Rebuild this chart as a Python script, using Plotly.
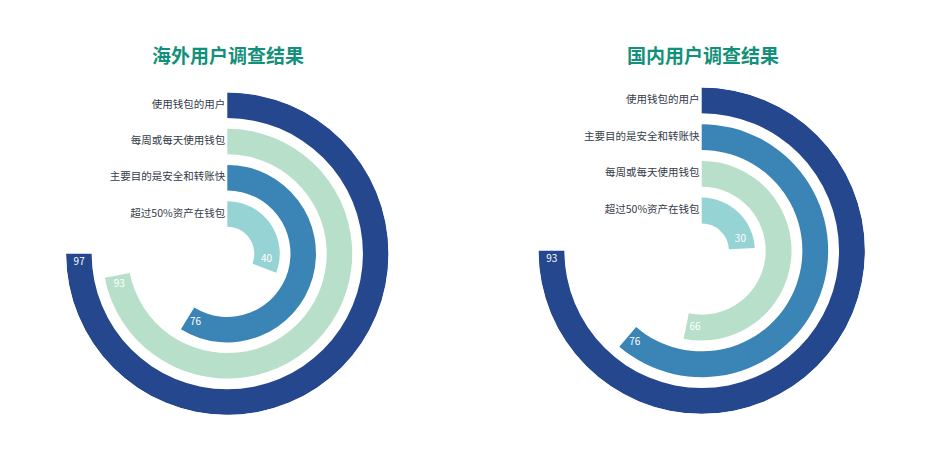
import math
import plotly.graph_objects as go

# ---- data ----
titles = ["海外用户调查结果", "国内用户调查结果"]
left_categories = ["使用钱包的用户", "每周或每天使用钱包", "主要目的是安全和转账快", "超过50%资产在钱包"]
left_values = [97, 93, 76, 40]
right_categories = ["使用钱包的用户", "主要目的是安全和转账快", "每周或每天使用钱包", "超过50%资产在钱包"]
right_values = [93, 76, 66, 30]

# ---- styles ----
color_map = {
    "使用钱包的用户": "#25478E",
    "每周或每天使用钱包": "#B7DFCA",
    "主要目的是安全和转账快": "#3A84B6",
    "超过50%资产在钱包": "#96D3D4",
}
TITLE_COLOR = "#13907A"
TEXT_COLOR = "#333C48"
FONT = "Noto Sans CJK SC"

W, H = 936, 456
# polar subplot geometry (pixel centers / radii)
charts = [
    dict(cx=227.3, cy=253.7, R=161.4, cats=left_categories, vals=left_values, title=titles[0], tx=227.7),
    dict(cx=701.7, cy=250.7, R=163.4, cats=right_categories, vals=right_values, title=titles[1], tx=703.0),
]
INNER = 0.167      # inner radius of innermost ring (fraction of R)
PITCH = 0.2245     # ring spacing
THICK = 0.158      # ring thickness
SWEEP = 270.0      # largest value spans 270 degrees
LABEL_OFFSET_PX = 9.0

fig = go.Figure()
annotations = []
for i, c in enumerate(charts):
    pid = "polar" if i == 0 else "polar2"
    n = len(c["cats"])
    maxv = max(c["vals"])
    bases, thetas, widths, cols, centers = [], [], [], [], []
    for j, (cat, v) in enumerate(zip(c["cats"], c["vals"])):
        k = n - 1 - j  # 0 = innermost
        base = INNER + PITCH * k
        ang = v / maxv * SWEEP
        bases.append(base)
        thetas.append(ang / 2)
        widths.append(ang)
        cols.append(color_map[cat])
        centers.append(base + THICK / 2)
    fig.add_trace(go.Barpolar(
        r=[THICK] * n, base=bases, theta=thetas, width=widths,
        marker=dict(color=cols, line=dict(width=0)),
        subplot=pid, hoverinfo="skip", showlegend=False,
    ))
    # category labels at the start of each ring
    fig.add_trace(go.Scatterpolar(
        r=centers, theta=[0] * n, mode="text", text=[t + "\u2009" for t in c["cats"]],
        textposition="middle left",
        textfont=dict(family=FONT, size=10.5, color=TEXT_COLOR),
        subplot=pid, cliponaxis=False, hoverinfo="skip", showlegend=False,
    ))
    # value labels near the end of each ring
    lab_theta = []
    for v, rc in zip(c["vals"], centers):
        ang = v / maxv * SWEEP
        off = math.degrees(LABEL_OFFSET_PX / (rc * c["R"]))
        lab_theta.append(ang - off)
    fig.add_trace(go.Scatterpolar(
        r=centers, theta=lab_theta, mode="text", text=[str(v) for v in c["vals"]],
        textposition="middle center",
        textfont=dict(family=FONT, size=10, color="white"),
        subplot=pid, cliponaxis=False, hoverinfo="skip", showlegend=False,
    ))
    annotations.append(dict(
        text="<b>%s</b>" % c["title"], x=c["tx"] / W, y=1 - 55 / H,
        xref="paper", yref="paper", xanchor="center", yanchor="middle",
        showarrow=False, font=dict(family=FONT, size=19, color=TITLE_COLOR),
    ))

def polar_layout(c):
    return dict(
        domain=dict(
            x=[(c["cx"] - c["R"]) / W, (c["cx"] + c["R"]) / W],
            y=[(H - c["cy"] - c["R"]) / H, (H - c["cy"] + c["R"]) / H],
        ),
        bgcolor="rgba(0,0,0,0)",
        hole=0,
        radialaxis=dict(visible=False, range=[0, 1], showgrid=False),
        angularaxis=dict(visible=False, rotation=90, direction="clockwise", showgrid=False),
    )

fig.update_layout(
    width=W, height=H,
    margin=dict(l=0, r=0, t=0, b=0),
    paper_bgcolor="white", plot_bgcolor="white",
    polar=polar_layout(charts[0]),
    polar2=polar_layout(charts[1]),
    annotations=annotations,
    barmode="overlay",
    font=dict(family=FONT),
)

fig.write_html("out.html", config={"displayModeBar": False},
               post_script="document.body.style.margin='0';")
